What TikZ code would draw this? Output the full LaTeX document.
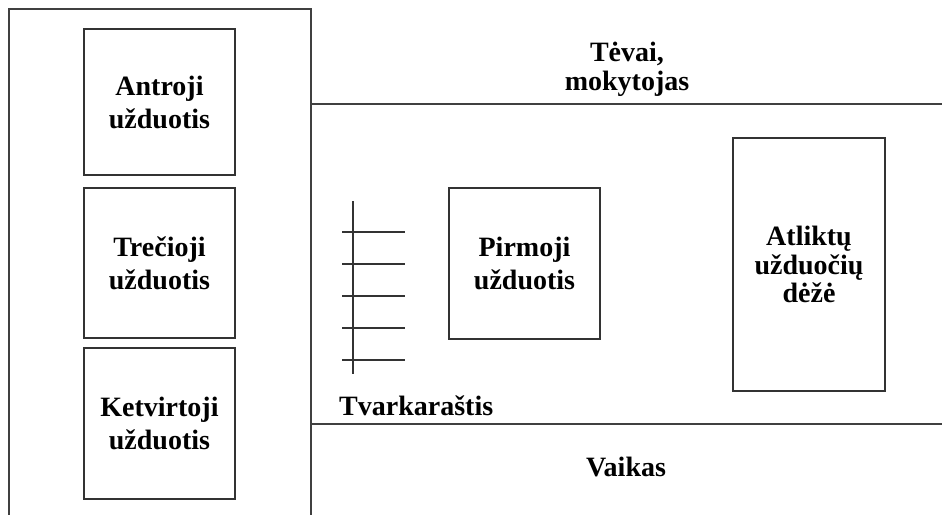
\documentclass[tikz,border=0pt]{standalone}
\usepackage{fontspec}
\setmainfont{Liberation Serif}
\begin{document}
\begin{tikzpicture}[x=1pt,y=-1pt,
  frame/.style={draw=black!75,line width=1.3pt},
  task/.style={draw=black!80,line width=1.1pt,align=center,inner sep=0pt,
    font=\fontsize{28}{33}\selectfont\bfseries},
  lbl/.style={align=center,inner sep=0pt,font=\fontsize{28}{28.5}\selectfont\bfseries},
  rung/.style={draw=black!80,line width=1.2pt}]
\useasboundingbox[fill=white] (0,0) rectangle (942,514);
% left column frame
\draw[frame] (9,520) -- (9,9) -- (311,9) -- (311,520);
% horizontal band lines
\draw[frame] (311,104) -- (942,104);
\draw[frame] (311,424) -- (942,424);
% task boxes in the left column
\node[task,minimum width=151pt,minimum height=146pt] (t2) at (159.5,102) {Antroji\\užduotis};
\node[task,minimum width=151pt,minimum height=150pt] (t3) at (159.5,263) {Trečioji\\užduotis};
\node[task,minimum width=151pt,minimum height=151pt] (t4) at (159.5,423.5) {Ketvirtoji\\užduotis};
% current task
\node[task,minimum width=151pt,minimum height=151pt] (t1) at (524.5,263.5) {Pirmoji\\užduotis};
% done box
\node[task,minimum width=152pt,minimum height=253pt,
  font=\fontsize{28}{28.5}\selectfont\bfseries] (done) at (809,264.5) {Atliktų\\užduočių\\dėžė};
% labels
\node[lbl] (parents) at (627,69.5) {Tėvai,\\mokytojas};
\node[lbl] (child) at (626,467) {Vaikas};
\node[lbl,anchor=west] (sched) at (339,406) {Tvarkaraštis};
% schedule ladder
\draw[rung] (353,201) -- (353,374);
\foreach \yy in {232,264,296,328,360}
  \draw[rung] (342,\yy) -- (405,\yy);
\end{tikzpicture}
\end{document}
